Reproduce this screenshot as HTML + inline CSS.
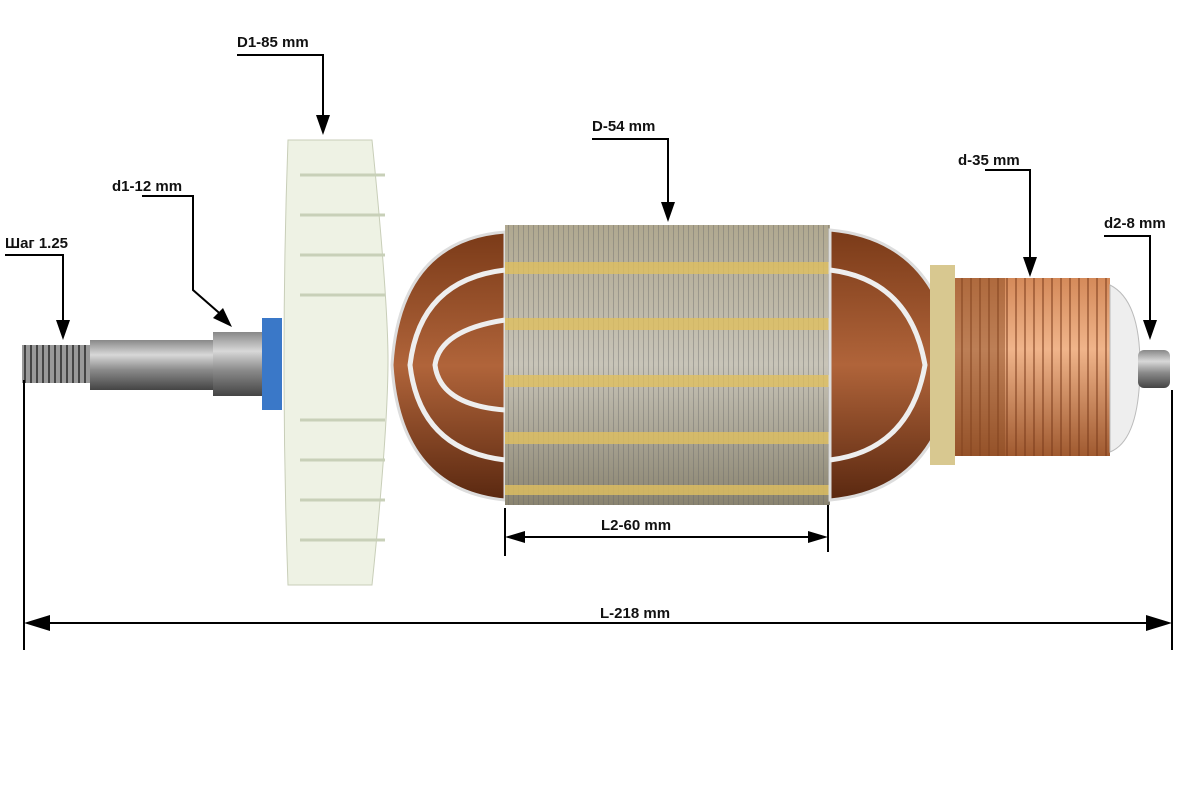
<!DOCTYPE html>
<html><head><meta charset="utf-8"><style>
html,body{margin:0;padding:0;background:#fff;}
svg{display:block;}
text{font-family:"Liberation Sans",sans-serif;font-weight:bold;font-size:15px;fill:#111;}
</style></head><body>
<svg width="1200" height="800" viewBox="0 0 1200 800" xmlns="http://www.w3.org/2000/svg">
<defs>
<linearGradient id="steel" x1="0" y1="0" x2="0" y2="1">
<stop offset="0" stop-color="#888"/><stop offset="0.3" stop-color="#d8d8d8"/><stop offset="0.6" stop-color="#8a8a8a"/><stop offset="1" stop-color="#444"/></linearGradient>
<linearGradient id="core" x1="0" y1="0" x2="0" y2="1">
<stop offset="0" stop-color="#b0a890"/><stop offset="0.5" stop-color="#c8c4b8"/><stop offset="1" stop-color="#8a8470"/></linearGradient>
<linearGradient id="copper" x1="0" y1="0" x2="0" y2="1">
<stop offset="0" stop-color="#d48a5a"/><stop offset="0.4" stop-color="#f0b48a"/><stop offset="1" stop-color="#a05a30"/></linearGradient>
<linearGradient id="wind" x1="0" y1="0" x2="0" y2="1">
<stop offset="0" stop-color="#7a3a18"/><stop offset="0.5" stop-color="#b0643a"/><stop offset="1" stop-color="#5a2810"/></linearGradient>
<pattern id="thread" width="6" height="40" patternUnits="userSpaceOnUse"><rect width="6" height="40" fill="#999"/><rect width="2" height="40" fill="#444"/></pattern>
<pattern id="comm" width="9" height="10" patternUnits="userSpaceOnUse"><rect width="9" height="10" fill="none"/><rect x="7" width="2" height="10" fill="#7a3a1a" opacity="0.5"/></pattern>
<pattern id="lam" width="5" height="10" patternUnits="userSpaceOnUse"><rect x="3" width="1" height="10" fill="#6a6a6a" opacity="0.4"/></pattern>
</defs>
<!-- shaft -->
<rect x="22" y="345" width="70" height="38" fill="url(#thread)"/>
<rect x="90" y="340" width="130" height="50" fill="url(#steel)"/>
<rect x="213" y="332" width="52" height="64" fill="url(#steel)"/>
<rect x="262" y="318" width="20" height="92" fill="#3a78c8"/>
<!-- fan -->
<path d="M288 140 L372 140 Q388 300 388 360 Q388 430 372 585 L288 585 Q280 360 288 140Z" fill="#eef2e4" stroke="#c8ceb8"/>
<g stroke="#c8d0b8" stroke-width="3">
<line x1="300" y1="175" x2="385" y2="175"/><line x1="300" y1="215" x2="385" y2="215"/><line x1="300" y1="255" x2="385" y2="255"/><line x1="300" y1="295" x2="385" y2="295"/><line x1="300" y1="420" x2="385" y2="420"/><line x1="300" y1="460" x2="385" y2="460"/><line x1="300" y1="500" x2="385" y2="500"/><line x1="300" y1="540" x2="385" y2="540"/>
</g>
<!-- left winding -->
<path d="M505 232 Q400 240 392 365 Q400 490 505 500Z" fill="url(#wind)" stroke="#ddd" stroke-width="3"/>
<g fill="none" stroke="#eee" stroke-width="5"><path d="M505 270 Q420 280 410 365 Q420 450 505 460"/><path d="M505 320 Q440 330 435 365 Q440 405 505 410"/></g>
<!-- core -->
<rect x="505" y="225" width="325" height="280" fill="url(#core)"/>
<rect x="505" y="225" width="325" height="280" fill="url(#lam)"/>
<g fill="#e0c060" opacity="0.8"><rect x="505" y="262" width="325" height="12"/><rect x="505" y="318" width="325" height="12"/><rect x="505" y="375" width="325" height="12"/><rect x="505" y="432" width="325" height="12"/><rect x="505" y="485" width="325" height="10"/></g>
<!-- right winding -->
<path d="M830 230 Q940 240 955 365 Q940 490 830 500Z" fill="url(#wind)" stroke="#ddd" stroke-width="3"/>
<g fill="none" stroke="#eee" stroke-width="5"><path d="M830 270 Q910 280 925 365 Q910 450 830 460"/></g>
<rect x="930" y="265" width="25" height="200" fill="#d8c890"/>
<!-- commutator -->
<rect x="955" y="278" width="155" height="178" fill="url(#copper)"/>
<rect x="955" y="278" width="155" height="178" fill="url(#comm)"/>
<rect x="955" y="278" width="50" height="178" fill="#8a4a22" opacity="0.5"/>
<path d="M1110 285 Q1140 300 1140 365 Q1140 440 1110 452Z" fill="#eee" stroke="#bbb"/>
<rect x="1138" y="350" width="32" height="38" rx="6" fill="url(#steel)"/>
<!-- dimension lines -->
<g stroke="#000" stroke-width="2" fill="none">
<line x1="24" y1="380" x2="24" y2="650"/><line x1="1172" y1="390" x2="1172" y2="650"/>
<line x1="30" y1="623" x2="1166" y2="623"/>
<line x1="505" y1="508" x2="505" y2="556"/><line x1="828" y1="505" x2="828" y2="552"/>
<line x1="512" y1="537" x2="821" y2="537"/>
<polyline points="237,55 323,55 323,125"/>
<polyline points="592,139 668,139 668,212"/>
<polyline points="985,170 1030,170 1030,267"/>
<polyline points="1104,236 1150,236 1150,330"/>
<polyline points="5,255 63,255 63,330"/>
<polyline points="142,196 193,196 193,290 225,318"/>
</g>
<g fill="#000">
<polygon points="24,623 50,615 50,631"/><polygon points="1172,623 1146,615 1146,631"/>
<polygon points="505,537 525,531 525,543"/><polygon points="828,537 808,531 808,543"/>
<polygon points="323,135 316,115 330,115"/>
<polygon points="668,222 661,202 675,202"/>
<polygon points="1030,277 1023,257 1037,257"/>
<polygon points="1150,340 1143,320 1157,320"/>
<polygon points="63,340 56,320 70,320"/>
<polygon points="232,327 213,318 223,308"/>
</g>
<text x="237" y="47">D1-85 mm</text>
<text x="592" y="131">D-54 mm</text>
<text x="958" y="165">d-35 mm</text>
<text x="1104" y="228">d2-8 mm</text>
<text x="5" y="248">Шаг 1.25</text>
<text x="112" y="191">d1-12 mm</text>
<text x="601" y="530">L2-60 mm</text>
<text x="600" y="618">L-218 mm</text>
</svg>
</body></html>
